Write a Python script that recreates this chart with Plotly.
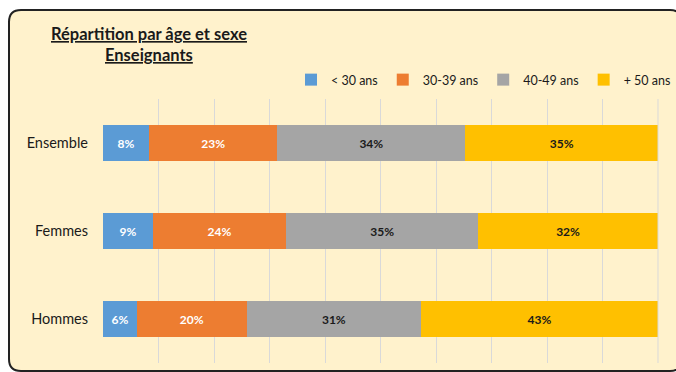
import plotly.graph_objects as go

categories = ["Ensemble", "Femmes", "Hommes"]
series_names = ["< 30 ans", "30-39 ans", "40-49 ans", "+ 50 ans"]
lt30 = [8.3, 9.0, 6.1]
a30_39 = [23.1, 24.0, 19.8]
a40_49 = [33.9, 34.6, 31.4]
p50 = [34.7, 32.4, 42.7]
series_values = [lt30, a30_39, a40_49, p50]
colors = ["#5B9BD5", "#ED7D31", "#A5A5A5", "#FFC000"]
label_colors = ["#FFFFFF", "#FFFFFF", "#1A1A1A", "#1A1A1A"]

W, H = 676, 372
L, R, T, B = 103, 18, 99, 9
PW, PH = W - L - R, H - T - B

def px(x):
    return (x - L) / PW

def py(y):
    return (H - B - y) / PH

fig = go.Figure()
for name, vals, c, lc in zip(series_names, series_values, colors, label_colors):
    fig.add_trace(go.Bar(
        y=categories, x=vals, name=name, orientation="h",
        marker=dict(color=c, line=dict(width=0)),
        texttemplate="%{x:.0f}%", textposition="inside", insidetextanchor="middle",
        textfont=dict(family="Lato", size=12, color=lc, weight="bold"),
        constraintext="none",
    ))

# rounded background frame
x0, y0, x1, y1, r = 9, 10, 682, 371, 12
rx, ry = r / PW, r / PH
X0, X1, Y0, Y1 = px(x0), px(x1), py(y0), py(y1)
path = (f"M{X0+rx},{Y0} L{X1-rx},{Y0} Q{X1},{Y0} {X1},{Y0-ry} "
        f"L{X1},{Y1+ry} Q{X1},{Y1} {X1-rx},{Y1} "
        f"L{X0+rx},{Y1} Q{X0},{Y1} {X0},{Y1+ry} "
        f"L{X0},{Y0-ry} Q{X0},{Y0} {X0+rx},{Y0} Z")
fig.add_shape(type="path", path=path, xref="paper", yref="paper",
              fillcolor="#FFF2CC", line=dict(color="#222222", width=2), layer="below")

fig.add_annotation(text="<b><u>Répartition par âge et sexe</u></b>", xref="paper", yref="paper",
                   x=px(149), y=py(34), xanchor="center", yanchor="middle", showarrow=False,
                   font=dict(family="Lato", size=16.5, color="#1A1A1A"))
fig.add_annotation(text="<b><u>Enseignants</u></b>", xref="paper", yref="paper",
                   x=px(149), y=py(55), xanchor="center", yanchor="middle", showarrow=False,
                   font=dict(family="Lato", size=16.5, color="#1A1A1A"))

fig.update_layout(
    width=W, height=H, margin=dict(l=L, r=R, t=T, b=B, autoexpand=False),
    barmode="stack", bargap=0.6,
    paper_bgcolor="white", plot_bgcolor="white",
    font=dict(family="Lato", color="#1A1A1A"),
    legend=dict(orientation="h", x=px(676), xanchor="right", y=py(80), yanchor="middle",
                font=dict(size=12.5), bgcolor="rgba(0,0,0,0)", itemwidth=30, traceorder="normal"),
    xaxis=dict(range=[0, 100], dtick=10, showticklabels=False, showgrid=True,
               gridcolor="#D9D9D9", gridwidth=1, zeroline=False, showline=False, fixedrange=True),
    yaxis=dict(categoryorder="array", categoryarray=categories[::-1], showgrid=False,
               showline=False, ticks="", ticklabelstandoff=14,
               tickfont=dict(size=14.5, color="#1A1A1A")),
)
fig.add_shape(type="line", xref="paper", yref="paper", x0=1, x1=1, y0=0, y1=1,
              line=dict(color="#D9D9D9", width=1))

fig.write_html("out.html", config={"displayModeBar": False},
               post_script="document.body.style.margin='0';document.body.style.overflow='hidden';")
